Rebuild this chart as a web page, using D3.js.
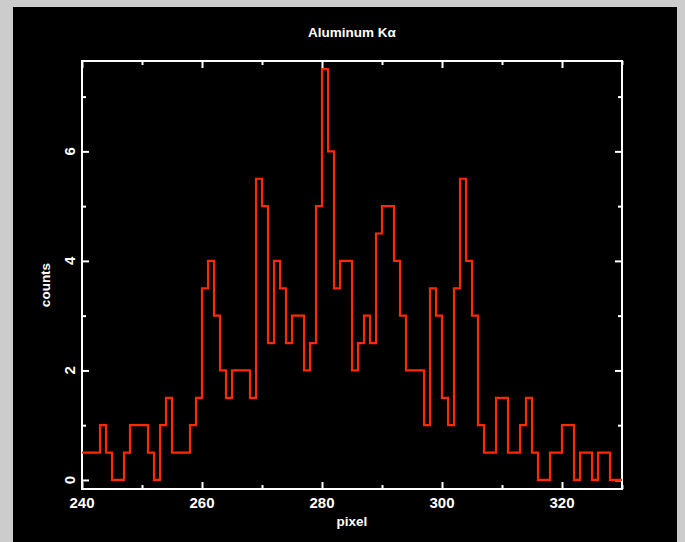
<!DOCTYPE html>
<html>
<head>
<meta charset="utf-8">
<script src="https://cdn.jsdelivr.net/npm/d3@7"></script>
<style>
  html, body { margin: 0; padding: 0; background: #cccccc; }
  svg { display: block; }
</style>
</head>
<body>
<svg id="chart" width="685" height="542"></svg>
<script>
// histogram bins, one per pixel, from 240 to 330
const binStart = 240
const binEnd = 330
const counts = [
  0.5, 0.5, 0.5, 1, 0.5, 0, 0, 0.5, 1, 1,        // 240-249
  1, 0.5, 0, 1, 1.5, 0.5, 0.5, 0.5, 1, 1.5,      // 250-259
  3.5, 4, 3, 2, 1.5, 2, 2, 2, 1.5, 5.5,          // 260-269
  5, 2.5, 4, 3.5, 2.5, 3, 3, 2, 2.5, 5,          // 270-279
  7.5, 6, 3.5, 4, 4, 2, 2.5, 3, 2.5, 4.5,        // 280-289
  5, 5, 4, 3, 2, 2, 2, 1, 3.5, 3,                // 290-299
  1.5, 1, 3.5, 5.5, 4, 3, 1, 0.5, 0.5, 1.5,      // 300-309
  1.5, 0.5, 0.5, 1, 1.5, 0.5, 0, 0, 0.5, 0.5,    // 310-319
  1, 1, 0, 0.5, 0.5, 0, 0.5, 0.5, 0, 0           // 320-329
]
const xMajor = [240, 260, 280, 300, 320]
const xMinor = [250, 270, 290, 310, 330]
const yMajor = [0, 2, 4, 6]
const yMinor = [1, 3, 5, 7]

const title = "Aluminum K\u03b1"
const xTitle = "pixel"
const yTitle = "counts"

const frame = { left: 82, right: 622, top: 61, bottom: 489 }
const white = "#ffffff"
const lineColor = "#ff2a00"
const font = "'Liberation Sans', Arial, sans-serif"

const svg = d3.select("#chart")

// black panel on the grey page
svg.append("rect")
    .attr("x", 13).attr("y", 7)
    .attr("width", 664).attr("height", 542 - 7)
    .attr("fill", "#000")

const x = d3.scaleLinear().domain([binStart, binEnd]).range([frame.left, frame.right])
const y = d3.scaleLinear().domain([-0.165, 7.65]).range([frame.bottom, frame.top])

// ticks point inward, on all four sides
function tickAxis(axisFn, scale, values, size, transform) {
    svg.append("g")
        .attr("transform", transform)
        .call(axisFn(scale).tickValues(values).tickSize(size).tickFormat(""))
        .call(g => g.select(".domain").remove())
        .call(g => g.selectAll("line").attr("stroke", white).attr("stroke-width", 2))
}
tickAxis(d3.axisBottom, x, xMajor, -7, `translate(0,${frame.bottom})`)
tickAxis(d3.axisBottom, x, xMinor, -4, `translate(0,${frame.bottom})`)
tickAxis(d3.axisTop, x, xMajor, -7, `translate(0,${frame.top})`)
tickAxis(d3.axisTop, x, xMinor, -4, `translate(0,${frame.top})`)
tickAxis(d3.axisLeft, y, yMajor, -7, `translate(${frame.left},0)`)
tickAxis(d3.axisLeft, y, yMinor, -4, `translate(${frame.left},0)`)
tickAxis(d3.axisRight, y, yMajor, -7, `translate(${frame.right},0)`)
tickAxis(d3.axisRight, y, yMinor, -4, `translate(${frame.right},0)`)

// frame
svg.append("rect")
    .attr("x", frame.left).attr("y", frame.top)
    .attr("width", frame.right - frame.left)
    .attr("height", frame.bottom - frame.top)
    .attr("fill", "none")
    .attr("stroke", white)
    .attr("stroke-width", 2)

// histogram as a step line
const steps = counts.map((c, i) => [binStart + i, c])
steps.push([binEnd, counts[counts.length - 1]])

svg.append("path")
    .datum(steps)
    .attr("fill", "none")
    .attr("stroke", lineColor)
    .attr("stroke-width", 2.2)
    .attr("stroke-linejoin", "miter")
    .attr("d", d3.line()
        .x(d => x(d[0]))
        .y(d => y(d[1]))
        .curve(d3.curveStepAfter))

// tick labels
svg.append("g")
    .selectAll("text")
    .data(xMajor)
    .enter().append("text")
        .attr("x", d => x(d))
        .attr("y", 508)
        .attr("text-anchor", "middle")
        .attr("fill", white)
        .attr("font-family", font)
        .attr("font-weight", "bold")
        .attr("font-size", 15)
        .text(d => d)

svg.append("g")
    .selectAll("text")
    .data(yMajor)
    .enter().append("text")
        .attr("transform", d => `translate(75,${y(d)}) rotate(-90)`)
        .attr("text-anchor", "middle")
        .attr("fill", white)
        .attr("font-family", font)
        .attr("font-weight", "bold")
        .attr("font-size", 15)
        .text(d => d)

// titles
svg.append("text")
    .attr("x", 352).attr("y", 37)
    .attr("text-anchor", "middle")
    .attr("fill", white)
    .attr("font-family", font)
    .attr("font-weight", "bold")
    .attr("font-size", 13.5)
    .text(title)

svg.append("text")
    .attr("x", 352).attr("y", 526)
    .attr("text-anchor", "middle")
    .attr("fill", white)
    .attr("font-family", font)
    .attr("font-weight", "bold")
    .attr("font-size", 13.5)
    .text(xTitle)

svg.append("text")
    .attr("transform", "translate(50,285) rotate(-90)")
    .attr("text-anchor", "middle")
    .attr("fill", white)
    .attr("font-family", font)
    .attr("font-weight", "bold")
    .attr("font-size", 13.5)
    .text(yTitle)
</script>
</body>
</html>
